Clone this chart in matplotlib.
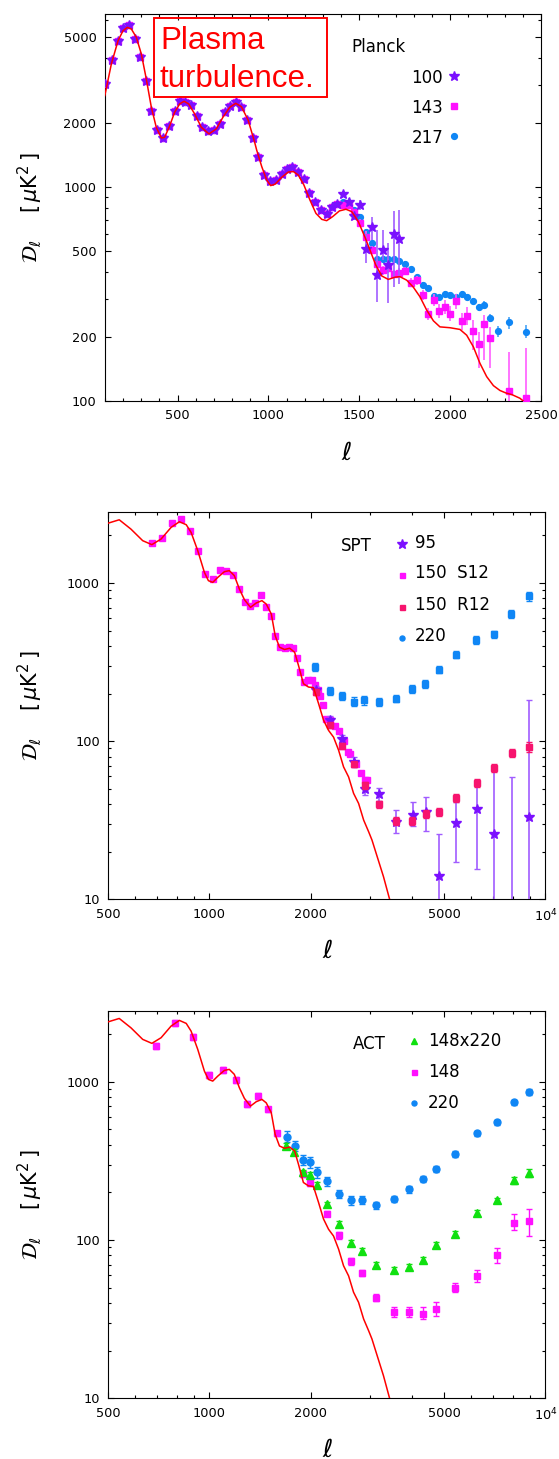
import numpy as np
import matplotlib
matplotlib.use('Agg')
import matplotlib.pyplot as plt
from matplotlib.patches import Rectangle
from matplotlib.ticker import FixedLocator, FixedFormatter, NullFormatter

plt.rcParams['font.family'] = ['DejaVu Sans']
plt.rcParams['mathtext.fontset'] = 'dejavusans'

# ---------------- Planck panel data ----------------
planck_ell_low = [103, 140, 173, 200, 233, 264, 294, 328, 356, 389, 420, 451, 484, 512,
                  543, 576, 605, 636, 668, 699, 732, 759, 790, 820, 851, 882, 915, 944,
                  977, 1010, 1040, 1073, 1100, 1131, 1164, 1195, 1225, 1256, 1287, 1320,
                  1348, 1379]
planck_D_low = [3030, 3920, 4830, 5540, 5730, 4900, 4060, 3120, 2275, 1847, 1690, 1933,
                2261, 2531, 2488, 2417, 2154, 1900, 1833, 1853, 1969, 2249, 2384, 2488,
                2357, 2056, 1695, 1376, 1137, 1067, 1078, 1150, 1213, 1245, 1180, 1090,
                934, 848, 781, 748, 804, 833]

p100_ell = [1412, 1443, 1472, 1503, 1535, 1568, 1597, 1628, 1659, 1690, 1720]
p100_D = [927, 853, 734, 824, 512, 649, 388, 508, 432, 601, 570]
p100_lo = [895, 825, 700, 780, 440, 565, 291, 456, 286, 342, 354]
p100_hi = [960, 885, 770, 870, 606, 727, 630, 630, 547, 772, 780]

p143_ell = [1412, 1443, 1472, 1503, 1535, 1568, 1597, 1628, 1659, 1690, 1720, 1753,
            1784, 1815, 1848, 1877, 1908, 1939, 1970, 2001, 2032, 2063, 2094, 2125,
            2156, 2185, 2220, 2324, 2418]
p143_D = [824, 820, 760, 681, 582, 508, 437, 409, 417, 392, 398, 405, 357, 367, 313,
          255, 296, 263, 274, 256, 292, 236, 250, 212, 185, 229, 198, 111, 103]
p143_lo = [800, 795, 735, 660, 545, 485, 418, 390, 398, 374, 380, 387, 340, 350, 298,
           240, 278, 245, 255, 236, 270, 215, 226, 173, 142, 155, 143, 80, 80]
p143_hi = [850, 845, 785, 705, 620, 532, 457, 428, 437, 411, 417, 424, 375, 385, 330,
           272, 316, 283, 295, 278, 316, 258, 276, 239, 211, 252, 222, 170, 176]

p217_ell = [1412, 1443, 1472, 1503, 1535, 1568, 1597, 1628, 1659, 1690, 1720, 1753,
            1784, 1815, 1848, 1877, 1908, 1939, 1970, 2001, 2032, 2063, 2094, 2125,
            2156, 2185, 2220, 2264, 2324, 2418]
p217_D = [853, 820, 781, 726, 618, 546, 461, 463, 461, 459, 453, 437, 413, 381, 348,
          336, 310, 305, 316, 313, 307, 316, 305, 294, 274, 281, 245, 212, 233, 211]
p217_err = [25, 25, 23, 22, 18, 16, 14, 14, 14, 14, 14, 13, 12, 11, 10, 10, 9, 9, 10,
            10, 10, 10, 10, 10, 10, 11, 11, 12, 15, 15]

planck_curve_ell = [100, 136, 173, 200, 224, 246, 273, 301, 328, 356, 383, 411, 429, 457,
                    484, 512, 536, 561, 594, 631, 673, 713, 750, 787, 820, 851, 888, 924,
                    935, 963, 990, 1012, 1036, 1073, 1109, 1137, 1164, 1195, 1228, 1261,
                    1293, 1320, 1353, 1390, 1426, 1458, 1494, 1531, 1558, 1590, 1623,
                    1659, 1696, 1723, 1760, 1797, 1833, 1870, 1907, 1943, 1998, 2053,
                    2090, 2127, 2163, 2200, 2237, 2273, 2306, 2340, 2383, 2401, 2450]
planck_curve_D = [2673, 3758, 4830, 5370, 5570, 5470, 5010, 4180, 3200, 2355, 1900, 1695,
                  1707, 1933, 2235, 2445, 2515, 2445, 2195, 1900, 1770, 1868, 2120, 2357,
                  2460, 2373, 2056, 1618, 1489, 1245, 1079, 1015, 1030, 1110, 1175, 1180,
                  1137, 1021, 869, 753, 706, 696, 727, 773, 787, 767, 689, 582, 508, 432,
                  384, 370, 379, 381, 367, 340, 307, 266, 237, 222, 220, 216, 203, 179,
                  150, 130, 118, 112, 109, 107, 103, 100, 90]

# ---------------- theory curve shared by SPT / ACT panels ----------------
hl_curve_ell = [500, 539, 584, 633, 674, 718, 769, 814, 853, 882, 923, 966, 993, 1023,
                1059, 1108, 1146, 1186, 1228, 1271, 1325, 1378, 1433, 1476, 1528, 1569,
                1616, 1673, 1733, 1793, 1841, 1904, 1971, 2040, 2112, 2185, 2262, 2341,
                2423, 2507, 2595, 2685, 2779, 2877, 2978, 3046, 3157, 3296, 3433, 3550]
hl_curve_D = [2393, 2512, 2193, 1853, 1749, 1898, 2249, 2442, 2338, 2089, 1603, 1169,
              1035, 1010, 1086, 1180, 1198, 1114, 916, 785, 702, 748, 774, 736, 637, 465,
              393, 380, 387, 365, 301, 231, 220, 218, 173, 136, 117, 106, 87.7, 68.8,
              59.4, 46.8, 40.4, 31.7, 26.7, 23.7, 18.6, 13.9, 10.1, 8.5]

# ---------------- SPT ----------------
spt_s12_ell = [674, 723, 772, 823, 874, 923, 972, 1023, 1073, 1123, 1177, 1223, 1275,
               1322, 1371, 1426, 1472, 1525, 1572, 1624, 1673, 1723, 1776, 1822, 1865,
               1916, 1971, 2026, 2067, 2097, 2128, 2174, 2227, 2290, 2356, 2422, 2507,
               2584, 2626, 2735, 2827, 2900, 2950]
spt_s12_D = [1782, 1923, 2410, 2553, 2143, 1586, 1135, 1060, 1209, 1187, 1130, 916, 763,
             712, 748, 840, 710, 616, 465, 393, 390, 394, 390, 336, 274, 237, 243, 245,
             226, 210, 193, 169, 139, 136, 124, 116, 101, 85.5, 82.7, 71.6, 62.5, 56.8,
             56.8]

spt_r12_ell = [2081, 2277, 2479, 2697, 2894, 3192, 3590, 4006, 4414, 4827, 5421, 6234,
               7037, 7928, 8921]
spt_r12_D = [205, 126, 92.9, 71.3, 52.7, 40.0, 31.4, 31.4, 34.6, 35.7, 43.8, 54.6, 67.8,
             84.4, 92.0]
spt_r12_err = [8, 5, 4, 3, 2.5, 2, 1.8, 1.8, 2, 2, 2.5, 3, 4, 5, 7]

spt_95_ell = [2081, 2277, 2484, 2697, 2894, 3192, 3590, 4023, 4414, 4827, 5421, 6234,
              7037, 7928, 8921]
spt_95_D = [212, 136, 103, 74, 50.2, 46.2, 31, 34.1, 35.7, 14.1, 30.2, 37.2, 25.9, 5, 33.3]
spt_95_lo = [202, 128, 96, 69, 46, 42, 26.4, 28.9, 27.1, 5, 17.1, 15.5, 5, 5, 5]
spt_95_hi = [222, 144, 110, 79, 54.5, 50.5, 36.7, 41, 44.4, 25.9, 41.3, 56.7, 68.9, 59.5, 183]

spt_220_ell = [2068, 2281, 2485, 2692, 2878, 3192, 3580, 4005, 4391, 4815, 5400, 6214,
               7020, 7917, 8941]
spt_220_D = [294, 209, 194, 178, 181, 177, 186, 214, 231, 283, 352, 437, 475, 637, 824]
spt_220_err = [16, 12, 11, 11, 11, 10, 10, 12, 13, 15, 18, 23, 26, 38, 58]

# ---------------- ACT ----------------
act148_ell = [694, 790, 896, 994, 1094, 1197, 1297, 1399, 1498, 1592, 1894, 1992, 2241,
              2436, 2644, 2843, 3142, 3551, 3938, 4331, 4722, 5384, 6271, 7173, 8081, 8950]
act148_D = [1686, 2361, 1923, 1102, 1185, 1026, 722, 816, 669, 472, 262, 230, 147, 107,
            73.5, 62.3, 43.3, 35.2, 35.2, 34.1, 36.9, 50.1, 59.0, 80.9, 129, 131]
act148_lo = [1610, 2260, 1840, 1055, 1135, 985, 692, 782, 641, 452, 251, 220, 141, 102,
             70, 59.5, 41, 32.5, 32.5, 31.5, 33, 47, 54, 72, 115, 106]
act148_hi = [1765, 2465, 2010, 1150, 1235, 1070, 752, 850, 697, 492, 273, 240, 153, 112,
             77, 65, 45.5, 38, 38, 37.5, 40.5, 53.5, 65, 89.6, 145, 156]

actx_ell = [1690, 1784, 1894, 1992, 2092, 2241, 2436, 2644, 2843, 3142, 3551, 3938, 4331,
            4722, 5384, 6271, 7173, 8081, 8950]
actx_D = [395, 359, 268, 258, 224, 168, 126, 95.7, 85.3, 69.2, 65.0, 67.6, 75.2, 93.5,
          109, 149, 178, 238, 266]
actx_err = [18, 15, 11, 10, 9, 7, 5, 4, 3.5, 3, 2.7, 2.8, 3, 3.8, 4.5, 6, 7, 11, 17]

act220_ell = [1699, 1797, 1894, 1992, 2092, 2241, 2436, 2644, 2843, 3142, 3551, 3938,
              4331, 4722, 5384, 6271, 7173, 8081, 8950]
act220_D = [451, 395, 321, 310, 268, 236, 196, 178, 180, 166, 182, 209, 242, 282, 351,
            473, 555, 741, 865]
act220_err = [36, 30, 25, 24, 20, 15, 12, 11, 11, 9, 9, 10, 11, 12, 14, 18, 20, 28, 40]

# colours
C_RED = '#ff0000'
C_PURPLE = '#7b10ff'
C_PURPLE_ERR = '#a15cff'
C_MAGENTA = '#ff10ff'
C_MAGENTA_ERR = '#ff5cff'
C_BLUE = '#0f86f5'
C_BLUE_ERR = '#4aa5f7'
C_PINK = '#f7146e'
C_GREEN = '#10e010'

fig = plt.figure(figsize=(5.59, 14.59), dpi=100)
ax1 = fig.add_axes([0.1875, 0.72515, 0.7807, 0.26525])
ax2 = fig.add_axes([0.1937, 0.3836, 0.7821, 0.26525])
ax3 = fig.add_axes([0.1937, 0.0416, 0.7820, 0.26546])


def style(ax):
    ax.tick_params(which='both', direction='in', top=True, right=True, width=0.8,
                   labelsize=9.3, colors='black')
    ax.tick_params(which='major', length=4.5, pad=6)
    ax.tick_params(which='minor', length=2.5)
    for s in ax.spines.values():
        s.set_linewidth(0.8)


def yerr_from(D, lo, hi):
    D = np.array(D)
    return [D - np.array(lo), np.array(hi) - D]


# ---------------- panel 1: Planck ----------------
ax = ax1
ax.set_yscale('log')
ax.set_xlim(100, 2500)
ax.set_ylim(100, 6430)
ax.xaxis.set_major_locator(FixedLocator([500, 1000, 1500, 2000, 2500]))
ax.xaxis.set_minor_locator(FixedLocator(np.arange(100, 2500, 100)))
ax.yaxis.set_major_locator(FixedLocator([100, 200, 500, 1000, 2000, 5000]))
ax.yaxis.set_major_formatter(FixedFormatter(['100', '200', '500', '1000', '2000', '5000']))
ax.yaxis.set_minor_locator(FixedLocator([300, 400, 600, 700, 800, 900, 3000, 4000, 6000]))
ax.yaxis.set_minor_formatter(NullFormatter())
style(ax)

ax.errorbar(planck_ell_low + p217_ell, planck_D_low + p217_D,
            yerr=[0] * len(planck_ell_low) + p217_err, fmt='o', ms=4.2, color=C_BLUE,
            ecolor=C_BLUE_ERR, elinewidth=1.2, capsize=0, zorder=2)
ax.errorbar(planck_ell_low + p143_ell, planck_D_low + p143_D,
            yerr=[[0] * len(planck_ell_low) + list(yerr_from(p143_D, p143_lo, p143_hi)[0]),
                  [0] * len(planck_ell_low) + list(yerr_from(p143_D, p143_lo, p143_hi)[1])],
            fmt='s', ms=4.0, color=C_MAGENTA, ecolor=C_MAGENTA_ERR, elinewidth=1.2,
            capsize=0, zorder=3)
ax.errorbar(planck_ell_low + p100_ell, planck_D_low + p100_D,
            yerr=[[0] * len(planck_ell_low) + list(yerr_from(p100_D, p100_lo, p100_hi)[0]),
                  [0] * len(planck_ell_low) + list(yerr_from(p100_D, p100_lo, p100_hi)[1])],
            fmt='*', ms=7.5, color=C_PURPLE, ecolor=C_PURPLE_ERR, elinewidth=1.2,
            capsize=0, zorder=4)
ax.plot(planck_curve_ell, planck_curve_D, color=C_RED, lw=1.1, zorder=5)

ax.add_patch(Rectangle((0.1127, 0.786), 0.3953, 0.204, transform=ax.transAxes,
                       fill=False, edgecolor=C_RED, lw=1.4, zorder=6))
ax.text(0.127, 0.9096, 'Plasma', transform=ax.transAxes, color=C_RED, fontsize=22.5,
        family='Liberation Sans', va='baseline', ha='left', zorder=7)
ax.text(0.125, 0.812, 'turbulence.', transform=ax.transAxes, color=C_RED, fontsize=22.5,
        family='Liberation Sans', va='baseline', ha='left', zorder=7)

ax.text(0.564, 0.915, 'Planck', transform=ax.transAxes, fontsize=12, va='center', ha='left')
for label, y, mk, col, ms in [('100', 0.835, '*', C_PURPLE, 7.5),
                              ('143', 0.756, 's', C_MAGENTA, 4.0),
                              ('217', 0.679, 'o', C_BLUE, 4.2)]:
    ax.text(0.775, y, label, transform=ax.transAxes, fontsize=12, va='center', ha='right')
    ax.plot([0.799], [y + 0.005], marker=mk, ms=ms, color=col, transform=ax.transAxes,
            linestyle='none', clip_on=False)

ax.text(-0.171, 0.5, r'$\mathcal{D}_\ell$    $[\,\mu\mathrm{K}^2\,]$', rotation=90,
        transform=ax.transAxes, ha='center', va='center', fontsize=15)
ax.text(0.553, -0.134, r'$\ell$', transform=ax.transAxes, ha='center', va='center',
        fontsize=18)


# ---------------- panels 2 and 3 axes ----------------
def setup_log(ax):
    ax.set_xscale('log')
    ax.set_yscale('log')
    ax.set_xlim(500, 10000)
    ax.set_ylim(10, 2800)
    ax.xaxis.set_major_locator(FixedLocator([500, 1000, 2000, 5000, 10000]))
    ax.xaxis.set_major_formatter(FixedFormatter(['500', '1000', '2000', '5000', r'$10^4$']))
    ax.xaxis.set_minor_locator(FixedLocator([600, 700, 800, 900, 3000, 4000, 6000, 7000,
                                             8000, 9000]))
    ax.xaxis.set_minor_formatter(NullFormatter())
    ax.yaxis.set_major_locator(FixedLocator([10, 100, 1000]))
    ax.yaxis.set_major_formatter(FixedFormatter(['10', '100', '1000']))
    ax.yaxis.set_minor_locator(FixedLocator([20, 30, 40, 50, 60, 70, 80, 90, 200, 300, 400,
                                             500, 600, 700, 800, 900, 2000]))
    ax.yaxis.set_minor_formatter(NullFormatter())
    style(ax)
    ax.text(-0.179, 0.5, r'$\mathcal{D}_\ell$    $[\,\mu\mathrm{K}^2\,]$', rotation=90,
            transform=ax.transAxes, ha='center', va='center', fontsize=15)
    ax.text(0.5025, -0.132, r'$\ell$', transform=ax.transAxes, ha='center', va='center',
            fontsize=18)
    ax.plot(hl_curve_ell, hl_curve_D, color=C_RED, lw=1.1, zorder=5)


# ---------------- panel 2: SPT ----------------
ax = ax2
setup_log(ax)
ax.errorbar(spt_s12_ell, spt_s12_D, fmt='s', ms=4.2, color=C_MAGENTA, zorder=2)
ax.errorbar(spt_220_ell, spt_220_D, yerr=spt_220_err, fmt='s', ms=5, color=C_BLUE,
            ecolor=C_BLUE, elinewidth=1.0, capsize=2.2, capthick=1.0, zorder=3)
ax.errorbar(spt_95_ell, spt_95_D, yerr=yerr_from(spt_95_D, spt_95_lo, spt_95_hi), fmt='*',
            ms=7.5, color=C_PURPLE, ecolor=C_PURPLE_ERR, elinewidth=1.2, capsize=2.2,
            capthick=1.0, zorder=3)
ax.errorbar(spt_r12_ell, spt_r12_D, yerr=spt_r12_err, fmt='s', ms=5, color=C_PINK,
            ecolor=C_PINK, elinewidth=1.0, capsize=2.2, capthick=1.0, zorder=4)

ax.text(0.531, 0.914, 'SPT', transform=ax.transAxes, fontsize=12, va='center', ha='left')
for label, y, mk, col, ms in [('95', 0.922, '*', C_PURPLE, 7),
                              ('150  S12', 0.842, 's', C_MAGENTA, 3.6),
                              ('150  R12', 0.760, 's', C_PINK, 3.6),
                              ('220', 0.680, 'o', C_BLUE, 3.6)]:
    ax.text(0.702, y, label, transform=ax.transAxes, fontsize=12, va='center', ha='left')
    ax.plot([0.671], [y - 0.004], marker=mk, ms=ms, color=col, transform=ax.transAxes,
            linestyle='none', clip_on=False)

# ---------------- panel 3: ACT ----------------
ax = ax3
setup_log(ax)
ax.errorbar(act220_ell, act220_D, yerr=act220_err, fmt='o', ms=5, color=C_BLUE,
            ecolor=C_BLUE, elinewidth=1.0, capsize=2.2, capthick=1.0, zorder=2)
ax.errorbar(act148_ell, act148_D, yerr=yerr_from(act148_D, act148_lo, act148_hi), fmt='s',
            ms=4.6, color=C_MAGENTA, ecolor=C_MAGENTA, elinewidth=1.0, capsize=2.2,
            capthick=1.0, zorder=3)
ax.errorbar(actx_ell, actx_D, yerr=actx_err, fmt='^', ms=5.5, color=C_GREEN,
            ecolor=C_GREEN, elinewidth=1.0, capsize=2.2, capthick=1.0, zorder=4)

ax.text(0.560, 0.914, 'ACT', transform=ax.transAxes, fontsize=12, va='center', ha='left')
for label, y, mk, col, ms in [('148x220', 0.923, '^', C_GREEN, 4.6),
                              ('148', 0.843, 's', C_MAGENTA, 3.6),
                              ('220', 0.763, 'o', C_BLUE, 3.6)]:
    ax.text(0.731, y, label, transform=ax.transAxes, fontsize=12, va='center', ha='left')
    ax.plot([0.700], [y], marker=mk, ms=ms, color=col, transform=ax.transAxes,
            linestyle='none', clip_on=False)

fig.savefig('out.png', dpi=100)
